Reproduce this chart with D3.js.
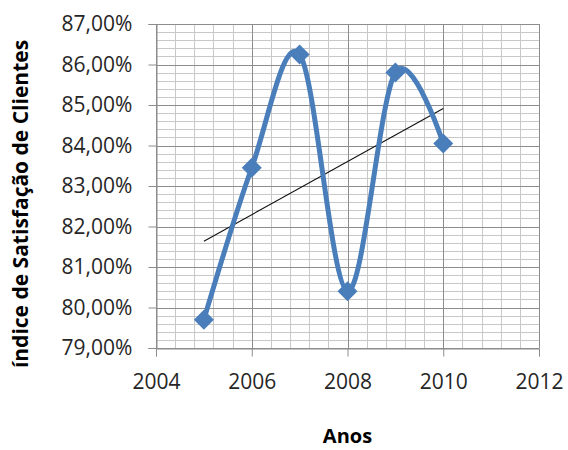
<!DOCTYPE html>
<html>
<head>
<meta charset="utf-8">
<script src="https://cdn.jsdelivr.net/npm/d3@7"></script>
<style>
  html, body { margin: 0; padding: 0; background: #fff; }
  svg { display: block; }
  text { font-family: "Open Sans", sans-serif; }
</style>
</head>
<body>
<svg id="chart" width="568" height="450"></svg>
<script>
// ---- data ----
const years = [2005, 2006, 2007, 2008, 2009, 2010];
const satisfaction = [79.7, 83.45, 86.25, 80.4, 85.8, 84.05];
const yTicks = [79, 80, 81, 82, 83, 84, 85, 86, 87];
const xTicks = [2004, 2006, 2008, 2010, 2012];
const xTitle = "Anos";
const yTitle = "índice de Satisfação de Clientes";

// ---- layout ----
const W = 568, H = 450;
const plot = { left: 156, right: 539, top: 24, bottom: 348 };
const svg = d3.select("#chart");

const x = d3.scaleLinear().domain([2004, 2012]).range([plot.left, plot.right]);
const y = d3.scaleLinear().domain([79, 87]).range([plot.bottom, plot.top]);

// minor gridlines (5 subdivisions)
const xMinor = d3.range(2004, 2012.0001, 0.4);
const yMinor = d3.range(79, 87.0001, 0.2);
const g = svg.append("g");
g.selectAll(".vmin").data(xMinor).join("line")
  .attr("x1", d => Math.round(x(d)) + 0.5).attr("x2", d => Math.round(x(d)) + 0.5)
  .attr("y1", plot.top).attr("y2", plot.bottom)
  .attr("stroke", "#c8c8c8").attr("stroke-width", 1);
g.selectAll(".hmin").data(yMinor).join("line")
  .attr("y1", d => Math.round(y(d)) + 0.5).attr("y2", d => Math.round(y(d)) + 0.5)
  .attr("x1", plot.left).attr("x2", plot.right)
  .attr("stroke", "#c8c8c8").attr("stroke-width", 1);
// major gridlines
g.selectAll(".vmaj").data(xTicks).join("line")
  .attr("x1", d => Math.round(x(d)) + 0.5).attr("x2", d => Math.round(x(d)) + 0.5)
  .attr("y1", plot.top).attr("y2", plot.bottom)
  .attr("stroke", "#8c8c8c").attr("stroke-width", 1);
g.selectAll(".hmaj").data(yTicks).join("line")
  .attr("y1", d => Math.round(y(d)) + 0.5).attr("y2", d => Math.round(y(d)) + 0.5)
  .attr("x1", plot.left).attr("x2", plot.right)
  .attr("stroke", "#8c8c8c").attr("stroke-width", 1);

// axes
const fmt = v => d3.format(".2f")(v).replace(".", ",") + "%";
const yAxis = d3.axisLeft(y).tickValues(yTicks).tickFormat(fmt).tickSize(8).tickPadding(14);
const xAxis = d3.axisBottom(x).tickValues(xTicks).tickFormat(d3.format("d")).tickSize(8).tickPadding(18);

const ya = svg.append("g").attr("transform", `translate(${plot.left + 0.5},0)`).call(yAxis);
const xa = svg.append("g").attr("transform", `translate(0,${plot.bottom + 0.5})`).call(xAxis);
[ya, xa].forEach(a => {
  a.select(".domain").attr("stroke", "#8c8c8c");
  a.selectAll(".tick line").attr("stroke", "#8c8c8c");
  a.selectAll(".tick text").attr("fill", "#262626")
    .style("font-size", "21px").style("font-family", "'Open Sans', sans-serif");
});
ya.selectAll(".tick text").attr("dx", "-0.1em");

// trendline (linear least squares)
const mx = d3.mean(years), my = d3.mean(satisfaction);
const slope = d3.sum(years, (d, i) => (d - mx) * (satisfaction[i] - my)) /
              d3.sum(years, d => (d - mx) * (d - mx));
const icpt = my - slope * mx;
const x0 = d3.min(years), x1 = d3.max(years);
svg.append("line")
  .attr("x1", x(x0)).attr("y1", y(icpt + slope * x0))
  .attr("x2", x(x1)).attr("y2", y(icpt + slope * x1))
  .attr("stroke", "#111").attr("stroke-width", 1.1);

// smoothed series line
const pts = years.map((d, i) => [d, satisfaction[i]]);
const line = d3.line().x(d => x(d[0])).y(d => y(d[1])).curve(d3.curveCardinal.tension(0));
svg.append("path").datum(pts).attr("d", line)
  .attr("fill", "none").attr("stroke", "#4a7ebb").attr("stroke-width", 5)
  .attr("stroke-linejoin", "round").attr("stroke-linecap", "round");

// diamond markers
svg.selectAll(".mk").data(pts).join("path")
  .attr("d", "M0,-10L10,0L0,10L-10,0Z")
  .attr("transform", d => `translate(${x(d[0])},${y(d[1])})`)
  .attr("fill", "#4a7ebb");

// titles
svg.append("text").text(xTitle)
  .attr("x", (plot.left + plot.right) / 2).attr("y", 443)
  .attr("text-anchor", "middle").attr("font-weight", "bold")
  .style("font-size", "20px").attr("fill", "#000");
svg.append("text").text(yTitle)
  .attr("transform", `translate(28,${(plot.top + plot.bottom) / 2 + 18}) rotate(-90)`)
  .attr("text-anchor", "middle").attr("font-weight", "bold")
  .style("font-size", "21px").attr("fill", "#000");
</script>
</body>
</html>
